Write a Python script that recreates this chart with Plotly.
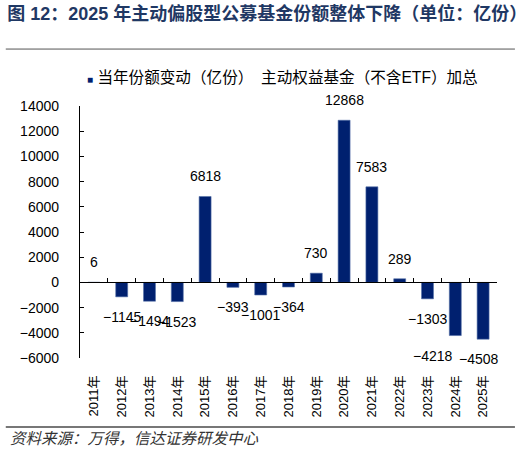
import plotly.graph_objects as go

# 主动权益基金（不含ETF）当年份额变动，亿份
years = ["2011年", "2012年", "2013年", "2014年", "2015年", "2016年", "2017年", "2018年",
	"2019年", "2020年", "2021年", "2022年", "2023年", "2024年", "2025年"]
share_change = [6, -1145, -1494, -1523, 6818, -393, -1001, -364,
	730, 12868, 7583, 289, -1303, -4218, -4508]

series_name = "当年份额变动（亿份）\u3000主动权益基金（不含ETF）加总"
title_text = "图 12：2025 年主动偏股型公募基金份额整体下降（单位：亿份）"
source_text = "资料来源：万得，信达证券研发中心"

navy = "#00206F"
font_family = "Arial, Liberation Sans, Noto Sans CJK SC, sans-serif"

bars = go.Bar(
	x=years,
	y=share_change,
	name=series_name,
	width=0.43,
	marker=dict(color=navy, line=dict(color="#5470a8", width=0.6)),
	showlegend=False,
	hovertemplate="%{x}: %{y}<extra></extra>",
)

# invisible copy so the zero-line axis knows the categories
ghost = go.Scatter(x=years, y=share_change, xaxis="x2", mode="none",
	showlegend=False, hoverinfo="skip")

# the last two labels were nudged left in the original to keep them apart
nudge = {"2024年": -22, "2025年": -4}

# value labels sit a bit off the bar ends, like the original
value_notes = []
for yr, v in zip(years, share_change):
	value_notes.append(dict(
		x=yr, y=v, xref="x", yref="y",
		text=str(v).replace("-", "\u2212"),
		showarrow=False,
		yanchor="bottom" if v >= 0 else "top",
		yshift=10 if v >= 0 else -10,
		xshift=nudge.get(yr, 0),
		font=dict(size=14, color="black"),
	))

layout = go.Layout(
	width=521,
	height=456,
	margin=dict(l=80, r=24, t=106, b=98, autoexpand=False),
	paper_bgcolor="white",
	plot_bgcolor="white",
	font=dict(family=font_family, size=14, color="black"),
	title=dict(
		text="<b>" + title_text + "</b>",
		xref="container", x=0.014, xanchor="left",
		yref="container", y=1 - 14 / 456, yanchor="middle",
		font=dict(size=18, color="#1F3864"),
	),
	showlegend=False,
	xaxis=dict(
		type="category",
		range=[-0.5, 14.5],
		showline=False,
		ticks="",
		tickangle=-90,
		ticklabelstandoff=14,
		tickfont=dict(size=13),
		showgrid=False,
		zeroline=False,
		automargin=False,
	),
	xaxis2=dict(
		type="category",
		range=[-0.5, 14.5],
		overlaying="x",
		anchor="free",
		position=0.3,
		showline=True,
		linecolor="black",
		linewidth=1.3,
		ticks="inside",
		tickson="boundaries",
		ticklen=4,
		tickcolor="black",
		showticklabels=False,
		showgrid=False,
		zeroline=False,
		automargin=False,
	),
	yaxis=dict(
		range=[-6000, 14000],
		dtick=2000,
		tickformat="d",
		showline=True,
		linecolor="black",
		linewidth=1.3,
		ticks="inside",
		ticklen=4,
		tickcolor="black",
		ticklabelstandoff=17,
		showgrid=False,
		zeroline=False,
		tickfont=dict(size=14),
		automargin=False,
	),
	shapes=[
		dict(type="line", xref="paper", yref="paper", x0=-0.178, x1=1.043,
			y0=1.226, y1=1.226, line=dict(color="#555555", width=1)),
		dict(type="line", xref="paper", yref="paper", x0=-0.178, x1=1.043,
			y0=-0.274, y1=-0.274, line=dict(color="#777777", width=2)),
	],
	annotations=value_notes + [
		dict(text='<span style="font-size:10px;color:' + navy + '">■</span> ' + series_name,
			xref="paper", yref="paper", x=0.012, y=1.115,
			xanchor="left", yanchor="middle", showarrow=False,
			font=dict(size=15.6, color="black")),
		dict(text="<i>" + source_text + "</i>", xref="paper", yref="paper",
			x=-0.173, y=-0.318, xanchor="left", yanchor="middle", showarrow=False,
			font=dict(size=15.5, color="#333333")),
	],
)

fig = go.Figure(data=[bars, ghost], layout=layout)
config = {"displayModeBar": False}
# drop the page's default 8px body margin so the figure sits at the window corner
fig.write_html("out.html", config=config, post_script="document.body.style.margin='0px';")
